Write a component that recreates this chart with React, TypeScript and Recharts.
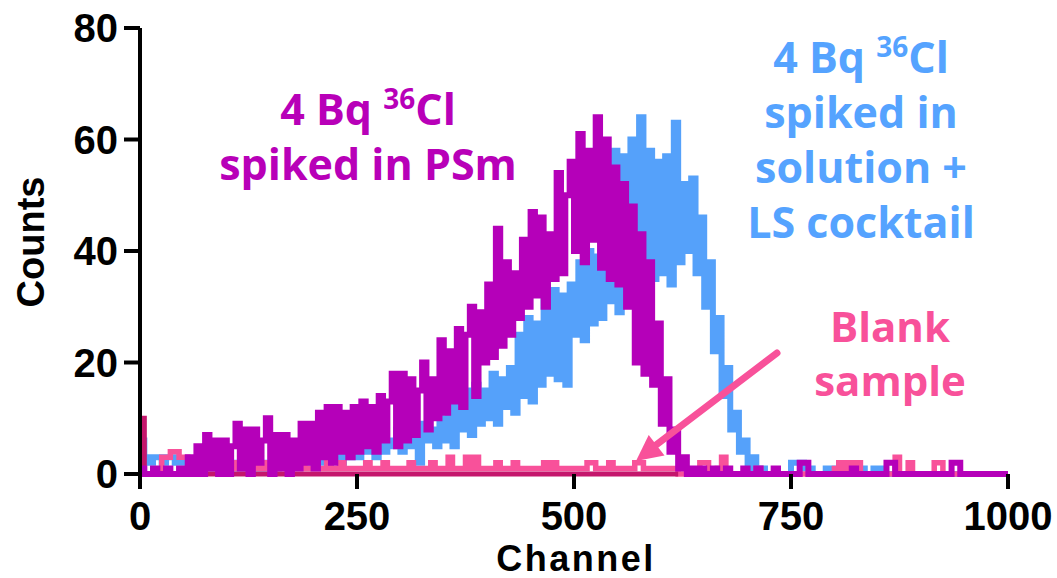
import React from "react";
import { LineChart, Line, XAxis, YAxis } from "recharts";

// channel grid (5-channel bins), 0..1000
const channels: number[] = Array.from({ length: 201 }, (_, i) => i * 5);

const xTicks = [0, 250, 500, 750, 1000];
const yTicks = [0, 20, 40, 60, 80];

// 4 Bq 36Cl spiked in PSm
const psm = [
  1, 0, 0, 1, 0, 0, 1, 0, 0, 1,
  0, 3, 0, 5, 0, 7, 1, 6, 0, 6,
  0, 5, 9, 1, 8, 0, 8, 2, 6, 10,
  0, 7, 1, 7, 0, 6, 1, 9, 2, 9,
  1, 11, 3, 12, 2, 12, 4, 11, 3, 12,
  4, 13, 5, 12, 4, 14, 6, 13, 18, 5,
  18, 6, 17, 7, 15, 20, 8, 17, 10, 24,
  11, 22, 13, 26, 12, 25, 30, 14, 29, 20,
  34, 21, 44, 23, 38, 25, 36, 28, 42, 30,
  47, 32, 46, 30, 43, 35, 54, 36, 50, 56,
  40, 61, 38, 58, 42, 64, 37, 60, 35, 55,
  34, 52, 30, 48, 20, 43, 18, 38, 16, 27,
  9, 17, 4, 8, 1, 3, 0, 1, 0, 1,
  0, 0, 1, 0, 0, 1, 0, 0, 0, 1,
  0, 0, 1, 0, 0, 0, 1, 0, 0, 0,
  0, 0, 2, 2, 0, 0, 0, 0, 0, 0,
  0, 0, 0, 0, 1, 0, 0, 0, 0, 0,
  0, 0, 2, 2, 0, 0, 0, 0, 0, 0,
  0, 0, 0, 0, 0, 0, 0, 2, 2, 0,
  0, 0, 0, 0, 0, 0, 0, 0, 0, 0,
  0,
];

// 4 Bq 36Cl spiked in solution + LS cocktail
const solution = [
  6, 3, 2, 3, 3, 2, 3, 3, 2, 2,
  2, 1, 2, 1, 2, 1, 1, 2, 1, 1,
  1, 2, 1, 1, 2, 1, 1, 2, 1, 2,
  2, 1, 2, 3, 1, 2, 3, 2, 3, 2,
  3, 2, 4, 2, 3, 5, 2, 4, 3, 5,
  3, 6, 4, 5, 3, 7, 4, 6, 5, 8,
  4, 8, 5, 7, 2, 9, 6, 8, 5, 10,
  6, 12, 5, 14, 8, 15, 7, 16, 9, 15,
  10, 18, 9, 17, 12, 19, 11, 25, 14, 28,
  13, 27, 16, 31, 18, 33, 17, 32, 16, 34,
  25, 38, 24, 40, 27, 39, 28, 41, 31, 58,
  29, 57, 33, 60, 36, 64, 37, 58, 35, 56,
  36, 57, 34, 63, 38, 52, 40, 53, 36, 46,
  30, 38, 22, 28, 14, 19, 8, 11, 4, 6,
  1, 3, 0, 1, 0, 0, 0, 0, 0, 0,
  2, 2, 2, 1, 1, 0, 0, 0, 1, 1,
  1, 0, 0, 0, 0, 1, 1, 0, 0, 1,
  1, 0, 0, 0, 0, 0, 0, 0, 0, 0,
  0, 0, 0, 0, 0, 0, 0, 0, 0, 0,
  0, 0, 0, 0, 0, 0, 0, 0, 0, 0,
  0,
];

// blank sample
const blank = [
  0, 0, 0, 0, 0, 3, 3, 4, 4, 3,
  3, 2, 1, 2, 1, 2, 1, 2, 1, 2,
  1, 2, 1, 2, 1, 1, 2, 1, 2, 1,
  2, 1, 2, 1, 1, 2, 1, 2, 1, 1,
  2, 1, 1, 2, 1, 1, 2, 1, 1, 1,
  1, 1, 2, 1, 1, 1, 2, 1, 1, 1,
  1, 1, 2, 1, 1, 1, 1, 2, 1, 1,
  1, 3, 1, 1, 1, 3, 1, 3, 1, 1,
  1, 1, 2, 1, 1, 1, 2, 1, 1, 1,
  1, 1, 1, 2, 1, 2, 1, 1, 1, 1,
  1, 1, 1, 2, 2, 1, 1, 1, 2, 1,
  1, 1, 1, 1, 2, 2, 1, 1, 1, 1,
  1, 1, 1, 1, 0, 0, 0, 0, 0, 2,
  2, 0, 0, 1, 3, 0, 0, 0, 0, 0,
  0, 0, 1, 0, 0, 0, 0, 0, 0, 0,
  0, 0, 0, 0, 0, 0, 0, 0, 0, 0,
  1, 2, 1, 2, 1, 2, 0, 0, 0, 0,
  0, 0, 0, 0, 3, 0, 0, 2, 0, 0,
  0, 0, 0, 2, 2, 0, 0, 0, 0, 0,
  0, 0, 0, 0, 0, 0, 0, 0, 0, 0,
  0,
];

// dark baseline trace (channels 0..620)
const baseline = [
  10, 0, 0, 0, 0, 0, 0, 0, 0, 0, 0, 0, 0, 0, 0, 0, 0, 0, 0, 0, 0, 0, 0, 0, 0,
  0, 0, 0, 0, 0, 0, 0, 0, 0, 0, 0, 0, 0, 0, 0, 0, 0, 0, 0, 0, 0, 0, 0, 0, 0,
  0, 0, 0, 0, 0, 0, 0, 0, 0, 0, 0, 0, 0, 0, 0, 0, 0, 0, 0, 0, 0, 0, 0, 0, 0,
  0, 0, 0, 0, 0, 0, 0, 0, 0, 0, 0, 0, 0, 0, 0, 0, 0, 0, 0, 0, 0, 0, 0, 0, 0,
  0, 0, 0, 0, 0, 0, 0, 0, 0, 0, 0, 0, 0, 0, 0, 0, 0, 0, 0, 0, 0, 0, 0, 0, 0,
];

const PURPLE = "#b500b9";
const BLUE = "#55a1fa";
const PINK = "#f8519a";
const CRIMSON = "#c4166c";

const data = channels.map((ch, i) => ({
  ch,
  psm: psm[i],
  solution: solution[i],
  blank: blank[i],
  baseline: i < baseline.length ? baseline[i] : null,
}));

const ARIAL = "'Liberation Sans', Arial, sans-serif";
const SANS = "'Open Sans', 'Noto Sans', sans-serif";

const YTick = (props: any) => {
  const { x, y, payload } = props;
  return (
    <text x={x} y={y} dy={14} textAnchor="end" fontFamily={ARIAL} fontWeight={700} fontSize={40} fill="#000">
      {payload.value}
    </text>
  );
};

const XTick = (props: any) => {
  const { x, y, payload } = props;
  return (
    <text x={x} y={y} dy={41} textAnchor="middle" fontFamily={ARIAL} fontWeight={700} fontSize={40} fill="#000">
      {payload.value}
    </text>
  );
};

const Iso = ({ x, y, color }: { x: number; y: number; color: string }) => (
  <text x={x} y={y} textAnchor="middle" fontFamily={SANS} fontWeight={700} fontSize={43} fill={color}>
    4 Bq{" "}
    <tspan fontSize={28} dy={-16}>36</tspan>
    <tspan dy={16}>Cl</tspan>
  </text>
);

const Annotations = () => (
  <svg width={1057} height={578} style={{ position: "absolute", left: 0, top: 0, pointerEvents: "none" }}>
    <text x={576} y={571} textAnchor="middle" fontFamily={ARIAL} fontWeight={700} fontSize={36} letterSpacing={2.5} fill="#000">
      Channel
    </text>
    <text
      transform="translate(44,242) rotate(-90)"
      textAnchor="middle"
      fontFamily={"'Liberation Sans Narrow', " + ARIAL}
      fontWeight={700}
      fontSize={38}
      fill="#000"
    >
      Counts
    </text>

    <Iso x={368} y={125} color="#b800b8" />
    <text x={368} y={180} textAnchor="middle" fontFamily={SANS} fontWeight={700} fontSize={43} fill="#b800b8">
      spiked in PSm
    </text>

    <Iso x={861} y={73} color="#55a3ff" />
    <text textAnchor="middle" fontFamily={SANS} fontWeight={700} fontSize={43} fill="#55a3ff">
      <tspan x={861} y={128}>spiked in</tspan>
      <tspan x={861} y={183}>solution +</tspan>
      <tspan x={861} y={238}>LS cocktail</tspan>
    </text>

    <text textAnchor="middle" fontFamily={SANS} fontWeight={700} fontSize={42} fill={PINK}>
      <tspan x={890} y={342}>Blank</tspan>
      <tspan x={890} y={396}>sample</tspan>
    </text>

    <line x1={777} y1={353} x2={656} y2={445} stroke={PINK} strokeWidth={7} strokeLinecap="round" />
    <polygon points="636,461 664.5,455.5 648.7,434.9" fill={PINK} />
  </svg>
);

const lineStyle = (w: number) => ({ strokeWidth: w });

export default function App() {
  return (
    <div style={{ position: "absolute", left: 0, top: 0, width: 1057, height: 578, background: "#fff" }}>
      <LineChart width={1057} height={578} data={data} margin={{ top: 28, right: 49, bottom: 0, left: 0 }}>
        <XAxis
          dataKey="ch"
          type="number"
          domain={[0, 1000]}
          ticks={xTicks}
          height={104}
          tickSize={15}
          tickMargin={0}
          tick={<XTick />}
          axisLine={false}
          tickLine={{ stroke: "#000", strokeWidth: 4 }}
        />
        <YAxis
          type="number"
          domain={[0, 80]}
          ticks={yTicks}
          width={140}
          tickSize={16}
          tickMargin={6}
          tick={<YTick />}
          axisLine={{ stroke: "#000", strokeWidth: 4 }}
          tickLine={{ stroke: "#000", strokeWidth: 4 }}
        />
        <Line dataKey="solution" type="stepAfter" stroke={BLUE} strokeWidth={6} style={lineStyle(6)} dot={false} isAnimationActive={false} />
        <Line dataKey="blank" type="stepAfter" stroke={PINK} strokeWidth={5.5} style={lineStyle(5.5)} dot={false} isAnimationActive={false} />
        <Line dataKey="baseline" type="stepAfter" stroke={CRIMSON} strokeWidth={5} style={lineStyle(5)} dot={false} isAnimationActive={false} />
        <Line dataKey="psm" type="stepAfter" stroke={PURPLE} strokeWidth={6} style={lineStyle(6)} dot={false} isAnimationActive={false} />
      </LineChart>
      <Annotations />
    </div>
  );
}
